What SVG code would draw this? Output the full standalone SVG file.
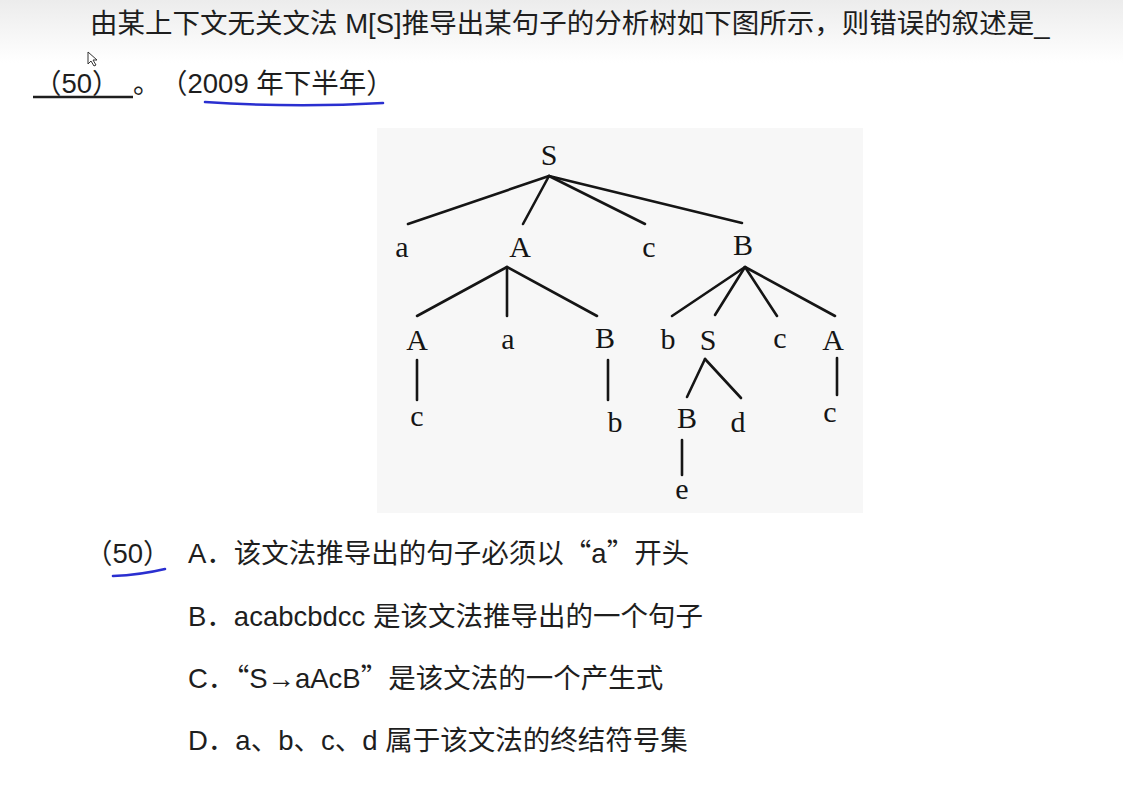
<svg xmlns="http://www.w3.org/2000/svg" width="1123" height="787" viewBox="0 0 1123 787">
<defs>
<linearGradient id="bg" x1="0" y1="0" x2="0" y2="1">
<stop offset="0" stop-color="#ececec"/>
<stop offset="0.08" stop-color="#ffffff"/>
<stop offset="1" stop-color="#ffffff"/>
</linearGradient>
<style>
.cn{font-family:"Liberation Sans","Noto Sans CJK SC",sans-serif;fill:#1e1e1e;font-size:27.5px}
.q{font-family:"Noto Sans CJK SC",sans-serif}
.t{font-family:"Liberation Serif","DejaVu Serif",serif;font-size:30px;fill:#151515;text-anchor:middle}
.e{stroke:#151515;stroke-width:2.6;fill:none;stroke-linecap:round}
.pen{stroke:#2a2fd0;stroke-width:2.6;fill:none;stroke-linecap:round}
</style>
</defs>
<rect width="1123" height="787" fill="url(#bg)"/>

<g id="question">
<text class="cn" x="90" y="33">由某上下文无关文法 M[S]推导出某句子的分析树如下图所示，则错误的叙述是_</text>
<text class="cn" x="34" y="93">（50）</text>
<line x1="33" y1="97" x2="133" y2="97" stroke="#1e1e1e" stroke-width="2.5"/>
<text class="cn" x="133" y="93">。</text>
<text class="cn" x="160" y="93">（2009 年下半年）</text>
<path class="pen" d="M205 102 Q295 108 383 103"/>
<path d="M88 52 L88 64 L91 61 L94 66 L96 65 L93 60 L97 60 Z" fill="#fff" stroke="#333" stroke-width="1"/>
</g>

<rect id="tree-bg" x="377" y="128" width="486" height="385" fill="#f7f7f7"/>

<g id="connectors">
<line class="e" x1="549" y1="176" x2="408" y2="224"/>
<line class="e" x1="549" y1="176" x2="523" y2="224"/>
<line class="e" x1="549" y1="176" x2="645" y2="224"/>
<line class="e" x1="549" y1="176" x2="742" y2="223"/>
<line class="e" x1="507" y1="267" x2="417" y2="316"/>
<line class="e" x1="507" y1="267" x2="507" y2="316"/>
<line class="e" x1="507" y1="267" x2="597" y2="316"/>
<line class="e" x1="745" y1="267" x2="672" y2="316"/>
<line class="e" x1="745" y1="267" x2="715" y2="315"/>
<line class="e" x1="745" y1="267" x2="777" y2="316"/>
<line class="e" x1="745" y1="267" x2="835" y2="316"/>
<line class="e" x1="417" y1="360" x2="417" y2="400"/>
<line class="e" x1="608" y1="360" x2="608" y2="400"/>
<line class="e" x1="705" y1="359" x2="687" y2="397"/>
<line class="e" x1="705" y1="359" x2="741" y2="398"/>
<line class="e" x1="682" y1="440" x2="682" y2="475"/>
<line class="e" x1="837" y1="358" x2="837" y2="395"/>
</g>

<g id="n-S"><text class="t" x="549" y="165">S</text></g>
<g id="n-a1"><text class="t" x="402" y="257">a</text></g>
<g id="n-A1"><text class="t" x="520" y="257">A</text></g>
<g id="n-c1"><text class="t" x="649" y="257">c</text></g>
<g id="n-B1"><text class="t" x="743" y="255">B</text></g>
<g id="n-A2"><text class="t" x="417" y="350">A</text></g>
<g id="n-a2"><text class="t" x="508" y="349">a</text></g>
<g id="n-B2"><text class="t" x="605" y="348">B</text></g>
<g id="n-b1"><text class="t" x="668" y="349">b</text></g>
<g id="n-S2"><text class="t" x="708" y="350">S</text></g>
<g id="n-c2"><text class="t" x="780" y="348">c</text></g>
<g id="n-A3"><text class="t" x="833" y="350">A</text></g>
<g id="n-c3"><text class="t" x="417" y="426">c</text></g>
<g id="n-b2"><text class="t" x="615" y="432">b</text></g>
<g id="n-B3"><text class="t" x="687" y="428">B</text></g>
<g id="n-d"><text class="t" x="738" y="432">d</text></g>
<g id="n-e"><text class="t" x="682" y="499">e</text></g>
<g id="n-c4"><text class="t" x="830" y="422">c</text></g>

<g id="options">
<text class="cn" x="85" y="563">（50）</text>
<path class="pen" d="M113 576 Q140 575 165 569"/>
<text class="cn" x="188" y="563">A．该文法推导出的句子必须以<tspan class="q">“</tspan>a<tspan class="q">”</tspan>开头</text>
<text class="cn" x="188" y="626">B．acabcbdcc 是该文法推导出的一个句子</text>
<text class="cn" x="188" y="688">C．<tspan class="q">“</tspan>S→aAcB<tspan class="q">”</tspan>是该文法的一个产生式</text>
<text class="cn" x="188" y="750">D．a、b、c、d 属于该文法的终结符号集</text>
</g>
</svg>
